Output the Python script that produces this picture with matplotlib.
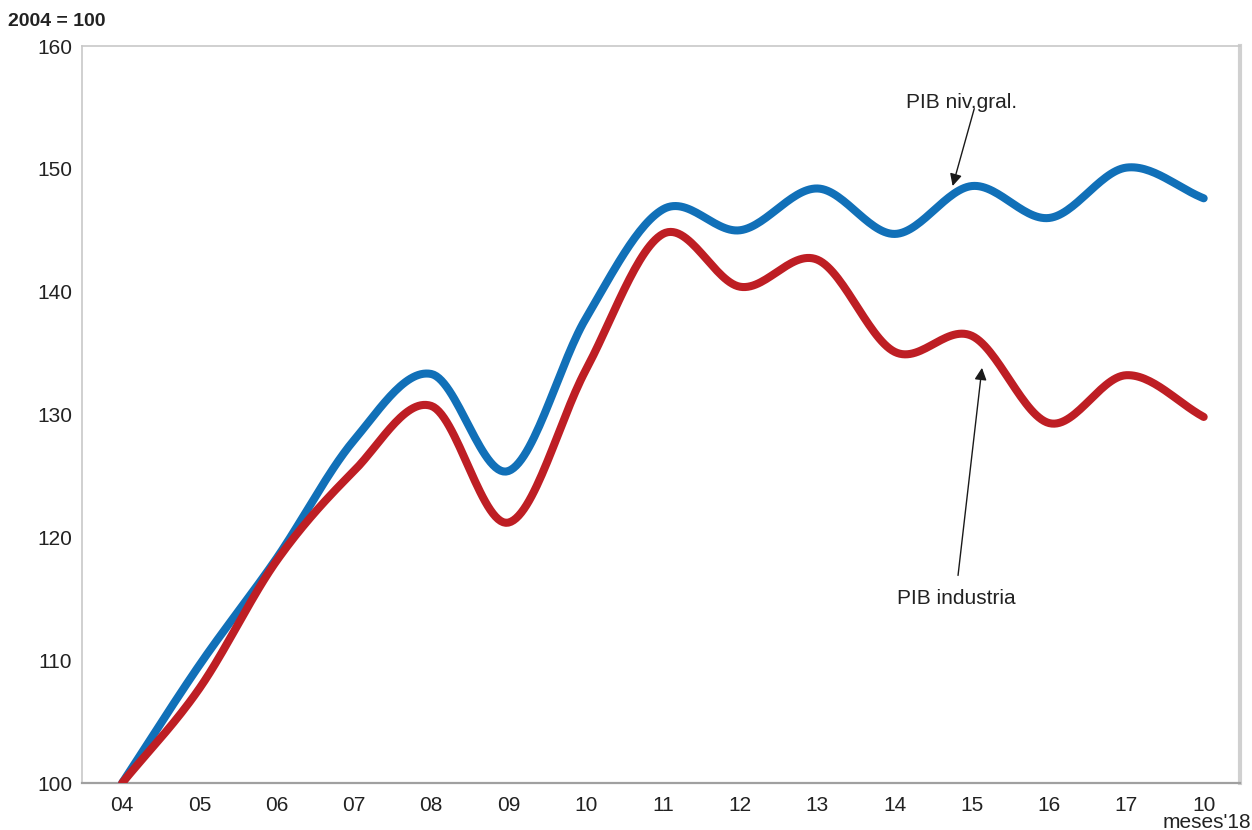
import matplotlib
matplotlib.use('Agg')

import numpy as np
import matplotlib.pyplot as plt
from matplotlib import font_manager

# Years 2004-2017 plus first ten months of 2018
periods = ['04', '05', '06', '07', '08', '09', '10', '11', '12', '13',
           '14', '15', '16', '17', '10']
pib_general = [100.0, 109.6, 118.3, 127.9, 133.3, 125.4, 137.8, 146.7,
               145.0, 148.4, 144.7, 148.6, 146.0, 150.1, 147.6]
pib_industria = [100.0, 107.7, 118.1, 125.4, 130.7, 121.2, 133.6, 144.7,
                 140.4, 142.6, 135.1, 136.4, 129.3, 133.2, 129.8]

BLUE = '#1170b8'
RED = '#be1e24'

names = {f.name for f in font_manager.fontManager.ttflist}
narrow = 'Liberation Sans Narrow' if 'Liberation Sans Narrow' in names else 'Liberation Sans'
plt.rcParams['font.family'] = [narrow, 'DejaVu Sans']


def smooth(xs, ys, n=30):
    # Catmull-Rom curve through the points, like a spreadsheet "smoothed line"
    xs = np.asarray(xs, float)
    ys = np.asarray(ys, float)
    px = np.concatenate([[2 * xs[0] - xs[1]], xs, [2 * xs[-1] - xs[-2]]])
    py = np.concatenate([[2 * ys[0] - ys[1]], ys, [2 * ys[-1] - ys[-2]]])
    out_x, out_y = [], []
    t = np.linspace(0, 1, n, endpoint=False)
    for i in range(1, len(px) - 2):
        for p, out in ((px, out_x), (py, out_y)):
            p0, p1, p2, p3 = p[i - 1], p[i], p[i + 1], p[i + 2]
            out.extend(0.5 * ((2 * p1) + (-p0 + p2) * t
                              + (2 * p0 - 5 * p1 + 4 * p2 - p3) * t ** 2
                              + (-p0 + 3 * p1 - 3 * p2 + p3) * t ** 3))
    out_x.append(xs[-1])
    out_y.append(ys[-1])
    return np.array(out_x), np.array(out_y)


x = np.arange(len(periods))

fig = plt.figure(figsize=(12.52, 8.30), dpi=100)
ax = fig.add_axes([82 / 1252, 1 - 783 / 830, (1240 - 82) / 1252, (783 - 46) / 830])

sx, sy = smooth(x, pib_general)
ax.plot(sx, sy, color=BLUE, lw=5.8, solid_capstyle='round', zorder=3)
sx, sy = smooth(x, pib_industria)
ax.plot(sx, sy, color=RED, lw=5.8, solid_capstyle='round', zorder=4)

ax.set_xlim(-0.52, 14.47)
ax.set_ylim(100, 160)
ax.set_yticks(range(100, 161, 10))
ax.set_xticks(x)
ax.set_xticklabels(periods)
ax.tick_params(length=0, labelsize=15, colors='#222222')
ax.tick_params(axis='x', pad=9)
ax.tick_params(axis='y', pad=7)

for side in ('left', 'top'):
    ax.spines[side].set_color('#c8c8c8')
    ax.spines[side].set_linewidth(1.2)
ax.spines['right'].set_color('#d0d0d0')
ax.spines['right'].set_linewidth(3)
ax.spines['bottom'].set_color('#a0a0a0')
ax.spines['bottom'].set_linewidth(1.6)

arrow = dict(arrowstyle='-|>', color='#1a1a1a', lw=1.0, mutation_scale=18,
             shrinkA=0, shrinkB=0)
ax.annotate('', xy=(10.75, 148.6), xytext=(11.03, 154.9), arrowprops=arrow, zorder=5)
ax.text(10.87, 155.4, 'PIB niv.gral.', ha='center', va='center',
        fontsize=15, color='#222222')
ax.annotate('', xy=(11.13, 133.8), xytext=(10.82, 116.9), arrowprops=arrow, zorder=5)
ax.text(10.80, 115.0, 'PIB industria', ha='center', va='center',
        fontsize=15, color='#222222')

fig.text(8 / 1252, 1 - 22 / 830, '2004 = 100', ha='left', va='center',
         fontsize=14, fontweight='bold', color='#222222')
fig.text(1207 / 1252, 1 - 822 / 830, "meses'18", ha='center', va='center',
         fontsize=15, color='#222222')

fig.savefig('out.png', dpi=100)
